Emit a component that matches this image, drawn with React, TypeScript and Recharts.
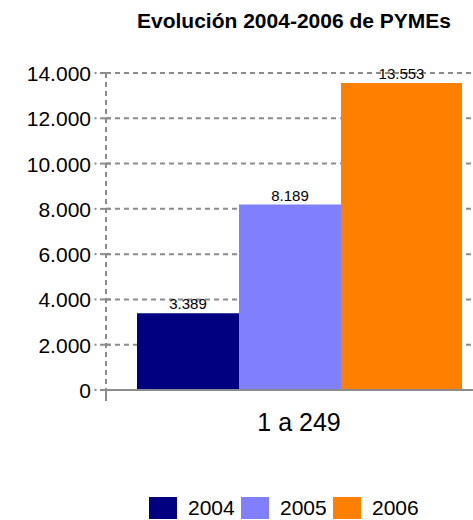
import { BarChart, Bar, XAxis, YAxis, CartesianGrid, LabelList } from 'recharts';

const categories = ['1 a 249'];
const values2004 = [3389];
const values2005 = [8189];
const values2006 = [13553];
const yTicks = [0, 2000, 4000, 6000, 8000, 10000, 12000, 14000];

const series = [
  { key: 'y2004', name: '2004', color: '#000080', size: 102 },
  { key: 'y2005', name: '2005', color: '#8080FF', size: 102 },
  { key: 'y2006', name: '2006', color: '#FF8000', size: 121 },
];

const data = categories.map((c, i) => ({
  name: c,
  y2004: values2004[i],
  y2005: values2005[i],
  y2006: values2006[i],
}));

const FONT = '"Liberation Sans", Arial, sans-serif';
const GRID = '#8c8c8c';

function fmt(n: number) {
  return String(n).replace(/\B(?=(\d{3})+(?!\d))/g, '.');
}

function YTick(props: any) {
  const { x, y, payload } = props;
  return (
    <g>
      <text x={x - 15} y={y} dy={8} textAnchor="end" fontSize={21} fill="#000" fontFamily={FONT}>
        {fmt(payload.value)}
      </text>
      <rect x={x - 11.5} y={y - 1} width={2} height={2} fill={GRID} />
      <line x1={x - 6} x2={x + 5} y1={y} y2={y} stroke={GRID} strokeWidth={2} />
      {payload.value === 0 && <line x1={x} x2={x} y1={y} y2={y + 11} stroke={GRID} strokeWidth={2} />}
    </g>
  );
}

export default function App() {
  return (
    <div
      style={{
        position: 'absolute',
        left: 0,
        top: 0,
        width: 473,
        height: 520,
        overflow: 'hidden',
        background: '#fff',
        fontFamily: FONT,
      }}
    >
      <div
        style={{
          position: 'absolute',
          left: 94,
          top: 9,
          width: 400,
          textAlign: 'center',
          fontSize: 21,
          fontWeight: 'bold',
          lineHeight: '24px',
        }}
      >
        Evolución 2004-2006 de PYMEs
      </div>
      <BarChart
        width={500}
        height={450}
        data={data}
        margin={{ top: 73, right: 8, bottom: 0, left: 0 }}
        barGap={0}
        barCategoryGap={0}
      >
        <CartesianGrid vertical={false} stroke={GRID} strokeWidth={2} strokeDasharray="5 4" />
        <XAxis
          dataKey="name"
          height={60}
          tickLine={false}
          tickMargin={17}
          axisLine={{ stroke: GRID, strokeWidth: 2 }}
          tick={{ fontSize: 25, fill: '#000', fontFamily: FONT }}
        />
        <YAxis
          width={106}
          domain={[0, 14000]}
          ticks={yTicks}
          interval={0}
          tickLine={false}
          tickSize={0}
          tickMargin={0}
          axisLine={{ stroke: GRID, strokeWidth: 2, strokeDasharray: '5 4' }}
          tick={<YTick />}
        />
        {series.map((s) => (
          <Bar key={s.key} dataKey={s.key} name={s.name} fill={s.color} barSize={s.size} isAnimationActive={false}>
            <LabelList
              dataKey={s.key}
              position="top"
              offset={4}
              formatter={(v: any) => fmt(Number(v))}
              style={{ fontSize: 15, fill: '#000', fontFamily: FONT }}
            />
          </Bar>
        ))}
      </BarChart>
      <div style={{ position: 'absolute', left: 149, top: 497, display: 'flex' }}>
        {series.map((s) => (
          <div key={s.key} style={{ display: 'flex', alignItems: 'center', width: 92, height: 22 }}>
            <div style={{ width: 28, height: 22, background: s.color, marginRight: 11 }} />
            <span style={{ fontSize: 21, lineHeight: '22px', color: '#000' }}>{s.name}</span>
          </div>
        ))}
      </div>
    </div>
  );
}
